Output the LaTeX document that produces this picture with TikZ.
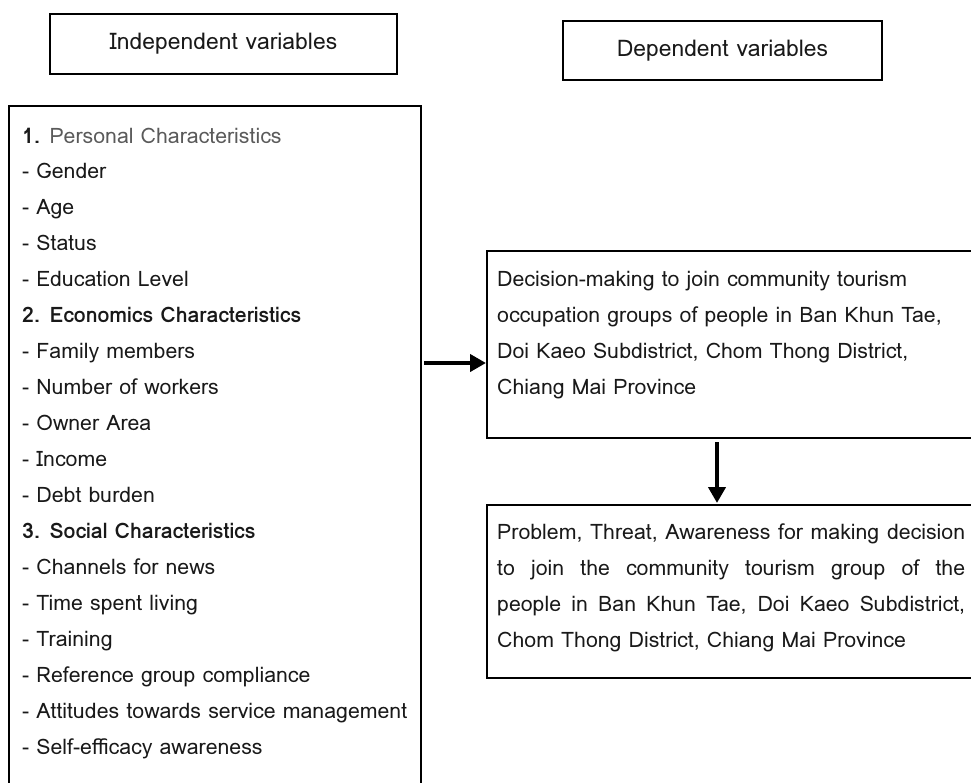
\documentclass[tikz,border=0pt]{standalone}
\usepackage{fontspec}
\setmainfont{Loma}
\usetikzlibrary{arrows.meta}
\definecolor{greytxt}{RGB}{90,90,90}
\definecolor{bodytxt}{RGB}{25,25,25}
\begin{document}
\begin{tikzpicture}[x=1pt,y=-1pt,
  box/.style={draw=black,line width=1.6pt,inner sep=0pt},
  txt/.style={font=\fontsize{21.3}{35.9}\selectfont,text=bodytxt},
  headtxt/.style={font=\fontsize{22.9}{30}\selectfont,text=bodytxt},
  item/.style={txt,anchor=base west,inner sep=0pt},
  bigarrow/.style={line width=4pt,-{Triangle[length=16pt,width=17pt]}}]
\useasboundingbox (0,0) rectangle (971,782);
% header boxes
\node[box,headtxt,minimum width=347pt,minimum height=60pt] (ivhead) at (223.5,44) {Independent variables};
\node[box,headtxt,minimum width=319pt,minimum height=59pt] (dvhead) at (722.5,50.5) {Dependent variables};
% big independent box
\node[box,anchor=north west,minimum width=412pt,minimum height=700pt] (ivbox) at (8,105) {};
\foreach \t [count=\i] in {
  {\textbf{1.} \textcolor{greytxt}{Personal Characteristics}},
  {- Gender},{- Age},{- Status},{- Education Level},
  {\textbf{2. Economics Characteristics}},
  {- Family members},{- Number of workers},{- Owner Area},{- Income},{- Debt burden},
  {\textbf{3. Social Characteristics}},
  {- Channels for news},{- Time spent living},{- Training},{- Reference group compliance},
  {- Attitudes towards service management},{- Self-efficacy awareness}}
  \node[item] (l\i) at (22,{143+(\i-1)*35.95}) {\t};
% dependent boxes
\node[box,anchor=north west,minimum width=500pt,minimum height=187pt] (dv1) at (486,250) {};
\node[txt,anchor=north west,inner sep=0pt,align=left] (dv1t) at (497,271)
  {Decision-making to join community tourism\\
   occupation groups of people in Ban Khun Tae,\\
   Doi Kaeo Subdistrict, Chom Thong District,\\
   Chiang Mai Province};
\node[box,anchor=north west,minimum width=500pt,minimum height=173pt] (dv2) at (486,504) {};
\node[txt,anchor=north west,inner sep=0pt,align=left] (dv2t) at (497,524)
  {\makebox[468pt][s]{Problem, Threat, Awareness for making decision}\\
   \makebox[468pt][s]{to join the community tourism group of the}\\
   \makebox[468pt][s]{people in Ban Khun Tae, Doi Kaeo Subdistrict,}\\
   Chom Thong District, Chiang Mai Province};
% arrows
\coordinate (a1s) at (424,363);
\draw[bigarrow] (a1s) -- (dv1.west |- a1s);
\draw[bigarrow] (717,442) -- (717,503);
\end{tikzpicture}
\end{document}
